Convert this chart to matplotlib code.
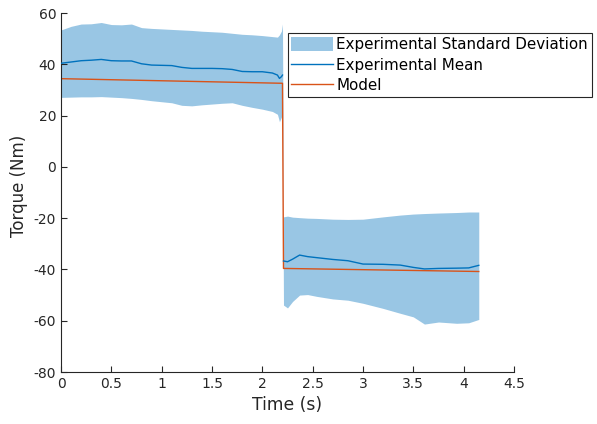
import matplotlib
matplotlib.use("Agg")
import matplotlib.pyplot as plt
from matplotlib.ticker import FormatStrFormatter

plt.rcParams['axes.unicode_minus'] = False
plt.rcParams['font.family'] = ['DejaVu Sans']

# 实验数据：阶跃前段
t1 = [0, 0.1, 0.2, 0.3, 0.4, 0.5, 0.6, 0.7, 0.8, 0.9, 1.0, 1.1, 1.2, 1.3,
      1.4, 1.5, 1.6, 1.7, 1.8, 1.9, 2.0, 2.1, 2.15, 2.17, 2.19, 2.2]
upper1 = [53.4, 54.8, 55.7, 55.8, 56.3, 55.5, 55.4, 55.7, 54.3, 54.0, 53.8, 53.6, 53.4, 53.2,
          52.9, 52.7, 52.5, 52.1, 51.7, 51.5, 51.2, 50.8, 50.6, 51.5, 53.0, 55.7]
lower1 = [27.1, 27.2, 27.3, 27.3, 27.4, 27.2, 27.0, 26.7, 26.3, 25.8, 25.4, 25.0, 24.0, 23.8,
          24.2, 24.5, 24.8, 25.0, 24.0, 23.2, 22.5, 21.6, 20.5, 17.6, 19.5, 20.9]
mean1 = [40.4, 40.9, 41.4, 41.6, 41.9, 41.4, 41.3, 41.3, 40.2, 39.7, 39.6, 39.5, 38.8, 38.4,
         38.4, 38.4, 38.3, 38.0, 37.2, 37.1, 37.1, 36.6, 35.8, 34.5, 35.2, 35.8]

# 阶跃后段
t2 = [2.21, 2.25, 2.3, 2.37, 2.45, 2.54, 2.7, 2.85, 3.0, 3.2, 3.37, 3.5, 3.61, 3.75, 3.93, 4.05, 4.15]
upper2 = [-19.5, -19.2, -19.6, -19.8, -20.0, -20.1, -20.4, -20.5, -20.4, -19.5, -18.8, -18.4,
          -18.2, -18.0, -17.8, -17.6, -17.6]
lower2 = [-53.9, -55.0, -52.5, -50.0, -49.8, -50.5, -51.5, -52.0, -53.2, -55.2, -57.1, -58.5,
          -61.3, -60.5, -61.0, -60.8, -59.5]
mean2 = [-36.7, -37.0, -36.0, -34.4, -35.0, -35.4, -36.1, -36.6, -37.9, -38.0, -38.3, -39.2,
         -39.8, -39.6, -39.5, -39.4, -38.4]

# 模型
t_model = [0, 2.2, 2.21, 4.15]
model = [34.4, 32.6, -39.6, -40.8]

blue = '#0072BD'
orange = '#D95319'
dark = '#262626'

fig = plt.figure(figsize=(5.97, 4.24), dpi=100)
ax = fig.add_axes([0.1022, 0.1226, 0.7588, 0.8467])

ax.fill_between(t1 + t2, upper1 + upper2, lower1 + lower2, color=blue, alpha=0.4,
                linewidth=0, zorder=1, label='Experimental Standard Deviation')
ax.plot(t1, mean1, color=blue, lw=1.0, zorder=3, label='Experimental Mean')
ax.plot(t2, mean2, color=blue, lw=1.0, zorder=3)
ax.plot(t_model, model, color=orange, lw=1.0, zorder=2, label='Model')

ax.set_xlim(0, 4.5)
ax.set_ylim(-80, 60)
ax.set_xticks([0, 0.5, 1, 1.5, 2, 2.5, 3, 3.5, 4, 4.5])
ax.set_yticks(range(-80, 61, 20))
ax.xaxis.set_major_formatter(FormatStrFormatter('%g'))
ax.tick_params(direction='in', length=4, width=0.8, colors=dark, labelsize=10, labelcolor=dark)
for s in ['top', 'right']:
    ax.spines[s].set_visible(False)
for s in ['left', 'bottom']:
    ax.spines[s].set_color(dark)
    ax.spines[s].set_linewidth(0.8)

ax.set_xlabel('Time (s)', fontsize=12.3, color=dark)
ax.set_ylabel('Torque (Nm)', fontsize=12, color=dark)
ax.yaxis.set_label_coords(-0.073, 0.518)

leg = ax.legend(loc='upper left', bbox_to_anchor=(0.5, 0.943), borderaxespad=0,
                fontsize=10.9, fancybox=False, framealpha=1, edgecolor=dark,
                handlelength=2.75, handleheight=1.0, handletextpad=0.2,
                labelspacing=0.35, borderpad=0.26)
leg.get_frame().set_linewidth(0.8)

fig.savefig('out.png', dpi=100)
